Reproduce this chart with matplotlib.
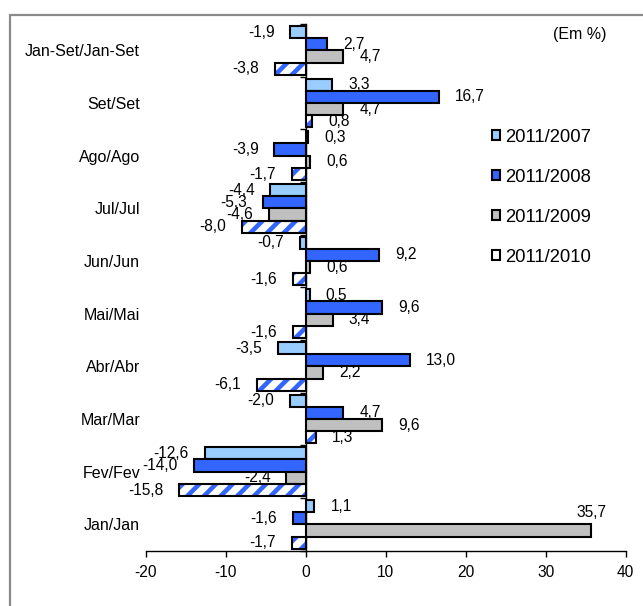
import numpy as np
import matplotlib.pyplot as plt
from matplotlib.patches import Patch, Rectangle
from matplotlib.ticker import FixedLocator

plt.rcParams['font.family'] = ['Liberation Sans', 'DejaVu Sans']
plt.rcParams['axes.unicode_minus'] = False
plt.rcParams['hatch.linewidth'] = 3.3

# categories from bottom to top
categories = ['Jan/Jan', 'Fev/Fev', 'Mar/Mar', 'Abr/Abr', 'Mai/Mai',
              'Jun/Jun', 'Jul/Jul', 'Ago/Ago', 'Set/Set', 'Jan-Set/Jan-Set']
series = ['2011/2007', '2011/2008', '2011/2009', '2011/2010']
v_2007 = [1.1, -12.6, -2.0, -3.5, 0.5, -0.7, -4.4, 0.3, 3.3, -1.9]
v_2008 = [-1.6, -14.0, 4.7, 13.0, 9.6, 9.2, -5.3, -3.9, 16.7, 2.7]
v_2009 = [35.7, -2.4, 9.6, 2.2, 3.4, 0.6, -4.6, 0.6, 4.7, 4.7]
v_2010 = [-1.7, -15.8, 1.3, -6.1, -1.6, -1.6, -8.0, -1.7, 0.8, -3.8]
x_ticks = [-20, -10, 0, 10, 20, 30, 40]

values = [v_2007, v_2008, v_2009, v_2010]
faces = ['#99CCFF', '#3366FF', '#C0C0C0', 'white']
stripe = '#3366FF'

W, H = 643, 606
fig = plt.figure(figsize=(W / 100, H / 100), dpi=100)
ax = fig.add_axes([145.7 / W, 1 - 550.7 / H, 480 / W, (550.7 - 24) / H])

xmin, xmax = -20, 40
y = np.arange(len(categories))
h = 0.232

for i, (vals, fc) in enumerate(zip(values, faces)):
    pos = y + (1.5 - i) * h
    if i == 3:
        # hatched fill first, black outline on top
        ax.barh(pos, vals, height=h, color='white', edgecolor=stripe,
                hatch='//', linewidth=0, zorder=3)
        bars = ax.barh(pos, vals, height=h, fill=False, edgecolor='black',
                       linewidth=1.5, zorder=4)
    else:
        bars = ax.barh(pos, vals, height=h, color=fc, edgecolor='black',
                       linewidth=1.5, zorder=4)
    for p, v in zip(pos, vals):
        txt = f'{v:.1f}'.replace('.', ',')
        if v > 0.8 * xmax:
            ax.annotate(txt, (v, p), xytext=(0, 13), textcoords='offset points',
                        ha='center', va='center', fontsize=11.2)
        elif v >= 0:
            ax.annotate(txt, (v, p), xytext=(11.5, 0), textcoords='offset points',
                        ha='left', va='center', fontsize=11.2)
        else:
            ax.annotate(txt, (v, p), xytext=(-11.5, 0), textcoords='offset points',
                        ha='right', va='center', fontsize=11.2)

ax.set_xlim(xmin, xmax)
ax.set_ylim(-0.5, len(categories) - 0.5)

ax.spines['top'].set_visible(False)
ax.spines['left'].set_visible(False)
ax.spines['right'].set_position(('data', 0))
ax.spines['right'].set_linewidth(1)
ax.spines['bottom'].set_linewidth(1)

ax.set_xticks(x_ticks)
ax.tick_params(axis='x', direction='out', length=4, width=1, labelsize=11.2, pad=6)
ax.set_yticks(y, categories)
ax.tick_params(axis='y', which='major', length=0, pad=4, labelsize=11.5)
ax.yaxis.set_minor_locator(FixedLocator(np.arange(-0.5, len(categories), 1)))
ax.tick_params(axis='y', which='minor', left=False, right=True,
               direction='in', length=4, width=1)

handles = [Patch(facecolor=fc, edgecolor='black', linewidth=1.5) for fc in faces]
ax.legend(handles, series, loc='upper left', bbox_to_anchor=(491.7 / W, 1 - 129 / H),
          bbox_transform=fig.transFigure, frameon=False, borderpad=0,
          borderaxespad=0, handlelength=0.45, handleheight=0.45,
          handletextpad=0.3, labelspacing=1.24, fontsize=13.3)

fig.text(552.7 / W, 1 - 35 / H, '(Em %)', ha='left', va='center', fontsize=11.5)

# gray frame around the chart
fig.add_artist(Rectangle((9.5 / W, -0.5), 2, 0.5 + (1 - 14.5 / H),
                         transform=fig.transFigure, fill=False,
                         edgecolor='#8a8a8a', linewidth=1.6, clip_on=False))

fig.savefig('out.png', dpi=100)
